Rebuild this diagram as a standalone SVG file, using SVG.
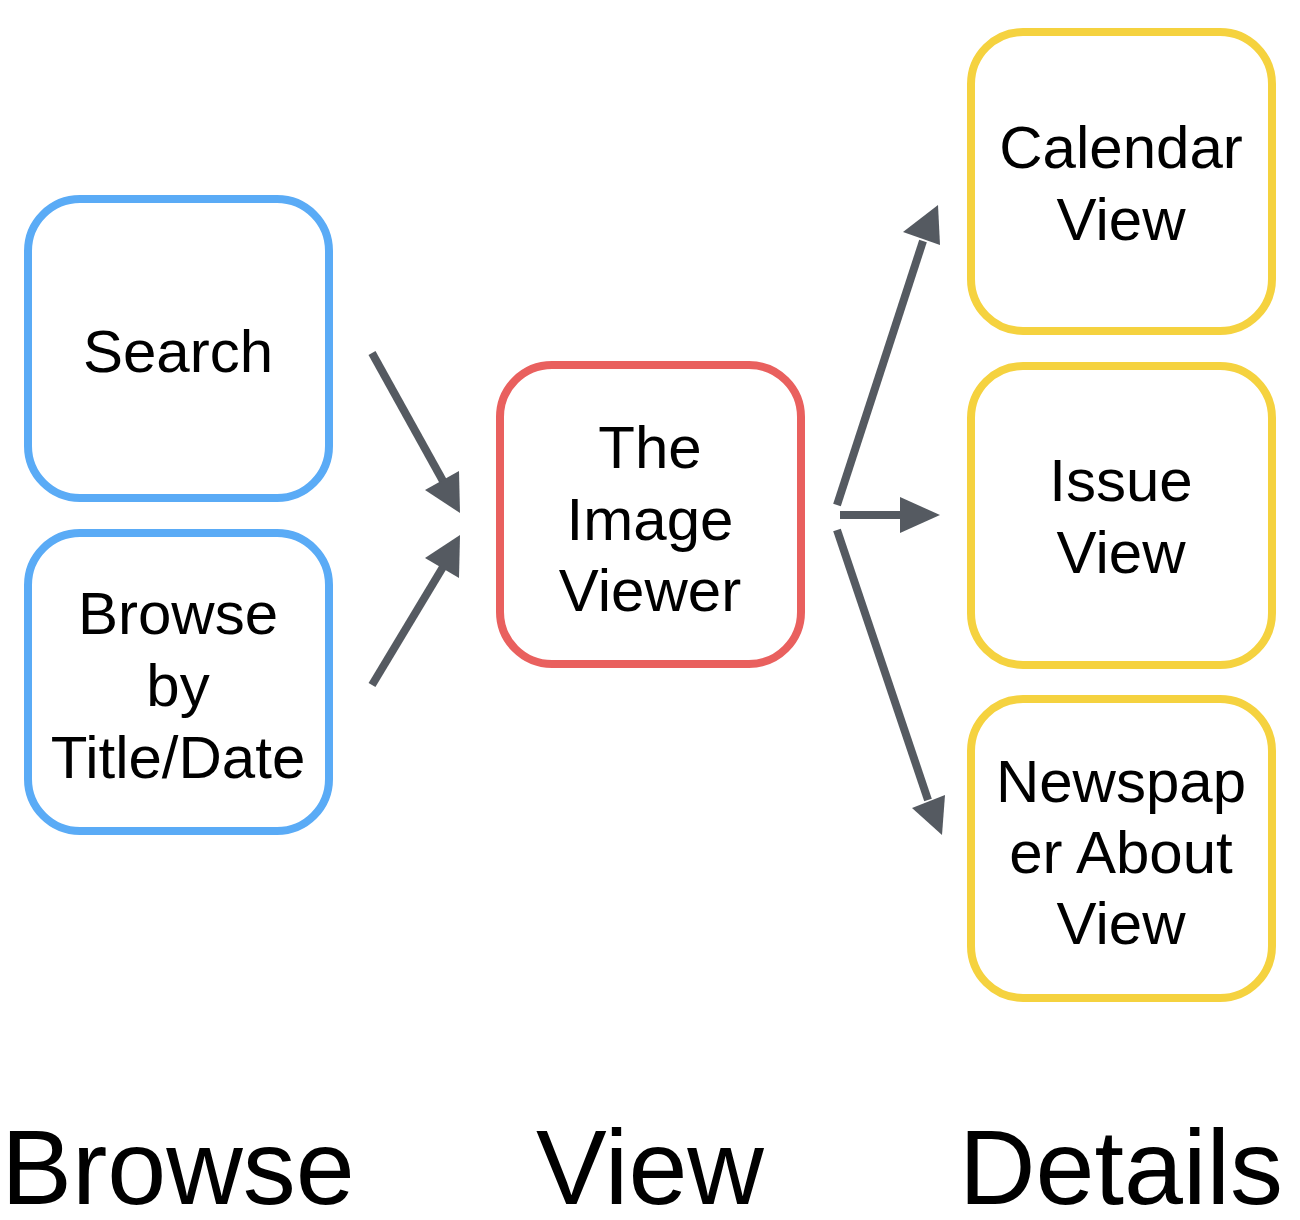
<svg xmlns="http://www.w3.org/2000/svg" width="1300" height="1220" viewBox="0 0 1300 1220">
<defs>
<style>
.box{fill:#fff;stroke-width:8}
.blue{stroke:#5aabf6}
.red{stroke:#e9605e}
.yellow{stroke:#f5d23f}
.t{font-family:"Liberation Sans",Arial,sans-serif;font-size:60px;fill:#000;text-anchor:middle}
.big{font-family:"Liberation Sans",Arial,sans-serif;font-size:106px;fill:#000;text-anchor:middle}
.ln{stroke:#555a61;stroke-width:8;fill:none}
.hd{fill:#555a61}
</style>
</defs>
<rect width="1300" height="1220" fill="#fff"/>
<g id="search">
<rect class="box blue" x="28" y="199" width="301" height="299" rx="52"/>
<text class="t" x="178" y="372">Search</text>
</g>
<g id="browse">
<rect class="box blue" x="28" y="533" width="301" height="298" rx="52"/>
<text class="t" x="178" y="634">Browse</text>
<text class="t" x="178" y="706">by</text>
<text class="t" x="178" y="778">Title/Date</text>
</g>
<g id="viewer">
<rect class="box red" x="500" y="365" width="301" height="299" rx="52"/>
<text class="t" x="650" y="468">The</text>
<text class="t" x="650" y="540">Image</text>
<text class="t" x="650" y="611">Viewer</text>
</g>
<g id="calendar">
<rect class="box yellow" x="971" y="32" width="301" height="299" rx="52"/>
<text class="t" x="1121" y="168">Calendar</text>
<text class="t" x="1121" y="240">View</text>
</g>
<g id="issue">
<rect class="box yellow" x="971" y="366" width="301" height="299" rx="52"/>
<text class="t" x="1121" y="501">Issue</text>
<text class="t" x="1121" y="573">View</text>
</g>
<g id="about">
<rect class="box yellow" x="971" y="699" width="301" height="299" rx="52"/>
<text class="t" x="1121" y="802">Newspap</text>
<text class="t" x="1121" y="873">er About</text>
<text class="t" x="1121" y="944">View</text>
</g>
<g id="connectors">
<line class="ln" x1="372" y1="353" x2="443" y2="481"/>
<polygon class="hd" points="460,513 425,490 459,471"/>
<line class="ln" x1="372" y1="685" x2="443" y2="567"/>
<polygon class="hd" points="460,535 425,558 459,578"/>
<line class="ln" x1="837" y1="505" x2="923" y2="241"/>
<polygon class="hd" points="938,205 903,232 940,245"/>
<line class="ln" x1="840" y1="515" x2="905" y2="515"/>
<polygon class="hd" points="940,515 900,497 900,533"/>
<line class="ln" x1="837" y1="530" x2="928" y2="800"/>
<polygon class="hd" points="942,835 912,808 945,795"/>
</g>
<g id="labels">
<text class="big" x="178" y="1204">Browse</text>
<text class="big" x="650" y="1204">View</text>
<text class="big" x="1121" y="1204">Details</text>
</g>
</svg>
